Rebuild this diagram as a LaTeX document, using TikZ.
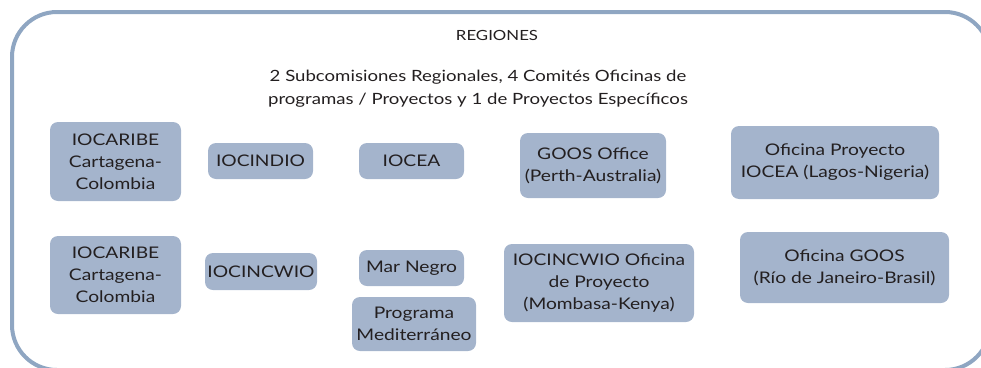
\documentclass[tikz,border=0pt]{standalone}
\usepackage{fontspec}
\setmainfont[FakeStretch=1.2]{Lato}
\definecolor{boxfill}{HTML}{A4B4CC}
\definecolor{framecol}{HTML}{8FA6C2}
\definecolor{txt}{HTML}{231F20}
\tikzset{
  ubox/.style={fill=boxfill, rounded corners=8pt, align=center, inner sep=0pt,
    text=txt, font=\fontsize{16}{22}\selectfont},
  ttl/.style={align=center, text=txt, font=\fontsize{14}{23}\selectfont},
  subttl/.style={align=center, text=txt, font=\fontsize{15.5}{23}\selectfont}
}
\begin{document}
\begin{tikzpicture}[x=1pt,y=-1pt]
\useasboundingbox (0,0) rectangle (981,367);
\draw[framecol, line width=4pt, rounded corners=45pt] (12,12) rectangle (990,370);
\node[ttl] (reg) at (497,35) {REGIONES};
\node[subttl] (sub) at (478,89) {2 Subcomisiones Regionales, 4 Comités Oficinas de\\programas / Proyectos y 1 de Proyectos Específicos};
\node[ubox, minimum width=131pt, minimum height=79pt] (car1) at (115.5,161.5) {IOCARIBE\\Cartagena-\\Colombia};
\node[ubox, minimum width=105pt, minimum height=36pt] (ind) at (260.5,161) {IOCINDIO};
\node[ubox, minimum width=105pt, minimum height=36pt] (cea) at (411.5,161) {IOCEA};
\node[ubox, minimum width=146pt, minimum height=65pt] (goosp) at (593,165.5) {GOOS Office\\(Perth-Australia)};
\node[ubox, minimum width=208pt, minimum height=73pt] (ofcea) at (835,162.5) {Oficina Proyecto\\IOCEA (Lagos-Nigeria)};
\node[ubox, minimum width=131pt, minimum height=78pt] (car2) at (115.5,275) {IOCARIBE\\Cartagena-\\Colombia};
\node[ubox, minimum width=112pt, minimum height=37pt] (cwio) at (261,271.5) {IOCINCWIO};
\node[ubox, minimum width=105pt, minimum height=36pt] (mar) at (411.5,268) {Mar Negro};
\node[ubox, minimum width=124pt, minimum height=54pt] (med) at (414,324) {Programa\\Mediterráneo};
\node[ubox, minimum width=190pt, minimum height=78pt] (ofcwio) at (599,283) {IOCINCWIO Oficina\\de Proyecto\\(Mombasa-Kenya)};
\node[ubox, minimum width=209pt, minimum height=71pt] (ofgoos) at (844.5,267.5) {Oficina GOOS\\(Río de Janeiro-Brasil)};
\end{tikzpicture}
\end{document}
